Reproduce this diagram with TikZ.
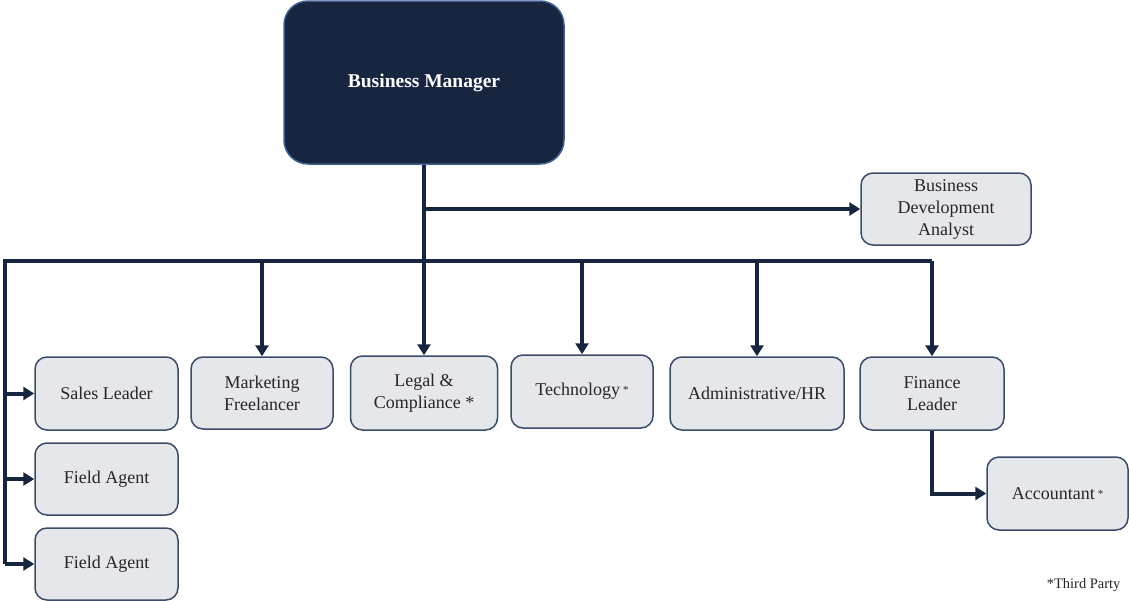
\documentclass[tikz,border=0pt]{standalone}
\usepackage{fontspec}
\setmainfont{Liberation Serif}
\usetikzlibrary{arrows.meta}
\definecolor{navy}{HTML}{17253F}
\definecolor{bmline}{HTML}{3F5F92}
\definecolor{boxfill}{HTML}{E6E7EB}
\definecolor{boxline}{HTML}{3A4C68}
\begin{document}
\begin{tikzpicture}[x=1pt,y=-1pt,
  box/.style={draw=boxline, line width=1.5pt, fill=boxfill, rounded corners=12pt,
    align=center, font=\fontsize{18}{22}\selectfont, text=black!85, inner sep=2pt},
  topbox/.style={draw=bmline, line width=1.5pt, fill=navy, rounded corners=24pt,
    align=center, font=\fontsize{19.5}{23}\selectfont\bfseries, text=white},
  conn/.style={draw=navy, line width=4pt},
  arr/.style={conn, -{Triangle[length=11pt,width=13pt]}},
  note/.style={font=\fontsize{14.5}{17}\selectfont, text=black!85}
]
\useasboundingbox (0,0) rectangle (1129,600);
\newcommand{\smallstar}{\,\raisebox{0.25ex}{\fontsize{11}{11}\selectfont *}}

\node[topbox, minimum width=280pt, minimum height=163pt] (bm) at (424,82.5) {Business Manager};
\node[box, minimum width=170pt, minimum height=72pt] (bda) at (946,209) {Business\\Development\\Analyst};

\node[box, minimum width=143pt, minimum height=73pt] (sales) at (106.5,393.5) {Sales Leader};
\node[box, minimum width=142pt, minimum height=72pt] (mkt) at (262,393) {Marketing\\Freelancer};
\node[box, minimum width=147pt, minimum height=74pt] (legal) at (424,393) {Legal \&\\Compliance *};
\node[box, minimum width=142pt, minimum height=73pt] (tech) at (582,391.5) {Technology\smallstar};
\node[box, minimum width=174pt, minimum height=73pt] (admin) at (757,393.5) {Administrative/HR};
\node[box, minimum width=144pt, minimum height=73pt] (fin) at (932,393.5) {Finance\\Leader};
\node[box, minimum width=141pt, minimum height=73pt] (acc) at (1057.5,493.5) {Accountant\smallstar};
\node[box, minimum width=143pt, minimum height=72pt] (fa1) at (106.5,479) {Field Agent};
\node[box, minimum width=143pt, minimum height=72pt] (fa2) at (106.5,564) {Field Agent};

\node[note, anchor=east] (tp) at (1124,585) {*Third Party};

\coordinate (lx) at (5,261);

% trunk
\draw[arr] (bm.south) -- (bm.south |- legal.north);
\draw[arr] (bm.south |- bda.west) -- (bda.west);
% bar and left riser
\draw[conn] (fin.north |- lx) -- (lx) -- (lx |- fa2.west);
% drops
\draw[arr] (mkt.north |- lx) -- (mkt.north);
\draw[arr] (tech.north |- lx) -- (tech.north);
\draw[arr] (admin.north |- lx) -- (admin.north);
\draw[arr] (fin.north |- lx) -- (fin.north);
% left feeds
\draw[arr] (lx |- sales.west) -- (sales.west);
\draw[arr] (lx |- fa1.west) -- (fa1.west);
\draw[arr] (lx |- fa2.west) -- (fa2.west);
% finance to accountant
\draw[arr] (fin.south) |- (acc.west);
\end{tikzpicture}
\end{document}
